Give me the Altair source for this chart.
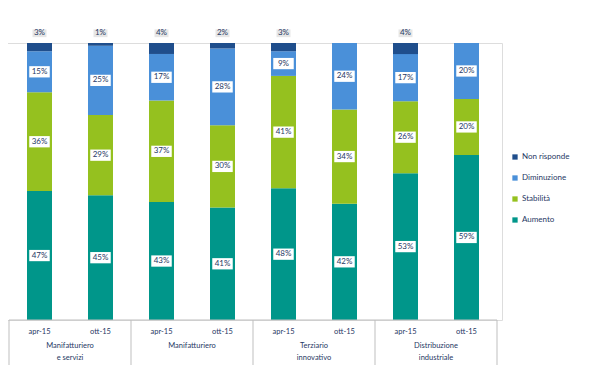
import altair as alt
import pandas as pd

groups = ["Manifatturiero\ne servizi", "Manifatturiero", "Terziario\ninnovativo", "Distribuzione\nindustriale"]
periods = ["apr-15", "ott-15"]
categories = ["Aumento", "Stabilità", "Diminuzione", "Non risponde"]
aumento = [47, 45, 43, 41, 48, 42, 53, 59]
stabilita = [36, 29, 37, 30, 41, 34, 26, 20]
diminuzione = [15, 25, 17, 28, 9, 24, 17, 20]
non_risponde = [3, 1, 4, 2, 3, 0, 4, 0]
colors = ["#00968A", "#95C11F", "#4A90D9", "#1F4E8C"]

series = [aumento, stabilita, diminuzione, non_risponde]
rows = []
labels_rows = []
for gi, g in enumerate(groups):
    for pi, p in enumerate(periods):
        idx = gi * len(periods) + pi
        labels_rows.append({"idx": idx, "period": p})
        for ci, c in enumerate(categories):
            rows.append({"idx": idx, "group": g, "period": p, "category": c,
                         "order": ci, "value": series[ci][idx]})
df = pd.DataFrame(rows)
period_df = pd.DataFrame(labels_rows)
n = len(groups) * len(periods)
group_df = pd.DataFrame({"group": groups,
                         "x": [gi * len(periods) + (len(periods) - 1) / 2 for gi in range(len(groups))]})
sep_df = pd.DataFrame({"sep": [gi * len(periods) - 0.5 for gi in range(len(groups) + 1)]})

W, H = 498, 277
NAVY = "#1F3864"
xscale = alt.Scale(domain=[-0.5, n - 0.5], nice=False, zero=False)
yscale = alt.Scale(domain=[0, 1], nice=False)

base = alt.Chart(df).transform_stack(
    stack="value", groupby=["idx"], as_=["y0", "y1"], offset="normalize",
    sort=[alt.SortField("order", "ascending")]
).transform_calculate(
    ymid="datum.category == 'Non risponde' ? 1.035 : (datum.y0 + datum.y1) / 2",
    lab="datum.value + '%'"
)

legend_order = categories[::-1]
bars = base.mark_bar(size=25, orient="vertical").encode(
    x=alt.X("idx:Q", scale=xscale, axis=None),
    y=alt.Y("y0:Q", scale=yscale, axis=None),
    y2="y1:Q",
    color=alt.Color("category:N",
                    scale=alt.Scale(domain=legend_order, range=colors[::-1]),
                    legend=alt.Legend(orient="none", legendX=507, legendY=110, title=None,
                                      symbolType="square", symbolSize=28, labelFontSize=8,
                                      labelColor=NAVY, rowPadding=13, labelOffset=3,
                                      labelFont="Lato")),
)

labeled = base.transform_filter("datum.value > 0")
boxes = labeled.mark_point(
    shape="M-1,-0.55L1,-0.55L1,0.55L-1,0.55Z", filled=True, opacity=1, strokeWidth=0
).encode(
    x=alt.X("idx:Q", scale=xscale),
    y=alt.Y("ymid:Q", scale=yscale),
    fill=alt.condition("datum.category == 'Non risponde'", alt.value("#E6E6E6"), alt.value("white")),
    size=alt.condition("datum.category == 'Non risponde'", alt.value(196), alt.value(420)),
)
texts = labeled.mark_text(fontSize=8, color=NAVY, font="Lato").encode(
    x=alt.X("idx:Q", scale=xscale),
    y=alt.Y("ymid:Q", scale=yscale),
    text="lab:N",
)

axis_line = alt.Chart(sep_df).mark_rule(color="#BFBFBF", strokeWidth=1).encode(
    x=alt.X("min(sep):Q", scale=xscale),
    x2="max(sep):Q",
    y=alt.value(H),
)
seps = alt.Chart(sep_df).mark_rule(color="#BFBFBF", strokeWidth=1).encode(
    x=alt.X("sep:Q", scale=xscale),
    y=alt.value(H),
    y2=alt.value(H + 45),
)
period_text = alt.Chart(period_df).mark_text(fontSize=7.5, color=NAVY, font="Lato").encode(
    x=alt.X("idx:Q", scale=xscale),
    y=alt.value(H + 12),
    text="period:N",
)
group_text = alt.Chart(group_df).mark_text(fontSize=7.5, color=NAVY, font="Lato",
                                          lineBreak="\n", baseline="top", lineHeight=12).encode(
    x=alt.X("x:Q", scale=xscale),
    y=alt.value(H + 22),
    text="group:N",
)

chart = alt.layer(bars, boxes, texts, axis_line, seps, period_text, group_text).properties(
    width=W, height=H,
    autosize=alt.AutoSizeParams(type="none"),
    padding={"left": -4, "top": 35, "right": 90, "bottom": 60},
).configure_view(stroke=None).configure(font="Lato")

chart.save("out.html", embed_options={"renderer": "svg", "actions": False})
